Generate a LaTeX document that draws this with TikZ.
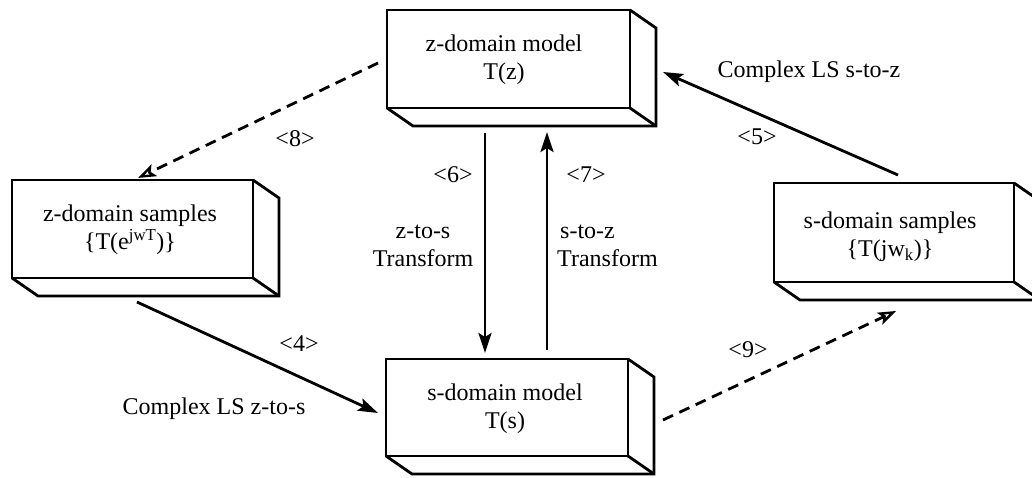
\documentclass[tikz,border=0pt]{standalone}
\usepackage{fontspec}
\setmainfont{Liberation Serif}
\usetikzlibrary{arrows.meta,calc}

\tikzset{
  box/.style={draw, line width=2.8pt, rectangle, inner sep=0pt, outer sep=0pt},
  depth/.style={line width=2.8pt, line join=miter},
  txt/.style={font=\fontsize{24}{28}\selectfont, align=center, inner sep=0pt},
  conn/.style={line width=2.8pt, -{Stealth[length=20pt,width=13pt,inset=4pt]}},
  dconn/.style={line width=2.8pt, dash pattern=on 11pt off 7pt,
    -{Stealth[open,length=18pt,width=13pt,inset=4pt,line width=2.4pt]}},
  lbl/.style={txt}
}

\begin{document}
\begin{tikzpicture}[x=1pt,y=-1pt]
\useasboundingbox (0,0) rectangle (1032,477);
\clip (0,0) rectangle (1032,477);

% front faces of the four blocks
\node[box, minimum width=243pt, minimum height=98pt] (top) at (508.5,59) {};
\node[box, minimum width=241pt, minimum height=98pt] (left) at (132.5,229) {};
\node[box, minimum width=240pt, minimum height=99pt] (right) at (894,232.5) {};
\node[box, minimum width=242pt, minimum height=97pt] (bot) at (507,407.5) {};

% bottom and right faces giving each block its depth
\foreach \b in {top,left,right,bot}{
  \draw[depth] (\b.south west) -- ++(26,18) -- ($(\b.south east)+(26,18)$)
     -- ($(\b.north east)+(26,18)$) -- (\b.north east);
  \draw[depth] (\b.south east) -- ++(26,18);
}

% block texts
\node[txt] (ttop) at (504,60) {z-domain model\\T(z)};
\node[txt] (tleft) at (130,230) {z-domain samples\\\{T(e\textsuperscript{jwT})\}};
\node[txt] (tright) at (890,237) {s-domain samples\\\{T(jw\textsubscript{k})\}};
\node[txt] (tbot) at (505,409) {s-domain model\\T(s)};

% transforms between the blocks
\draw[dconn] ([shift={(-9,4)}]top.west) -- ([shift={(5.5,-2)}]left.north);
\draw[conn] ([shift={(4.5,24)}]left.south) -- ([shift={(-8,5.5)}]bot.west);
\draw[conn] ([shift={(-23.5,25)}]top.south) -- ([shift={(-22,-6)}]bot.north);
\draw[conn] ([shift={(40,-9)}]bot.north) -- ([shift={(38.5,24)}]top.south);
\draw[conn] ([shift={(4,-8)}]right.north) -- ([shift={(33,13)}]top.east);
\draw[dconn] ([shift={(35,12.5)}]bot.east) -- ([shift={(2,29)}]right.south);

% labels
\node[lbl] (l8) at (295,139) {<8>};
\node[lbl] (l4) at (299,344) {<4>};
\node[lbl] (c4) at (214,409) {Complex LS z-to-s};
\node[lbl] (l6) at (453,175) {<6>};
\node[lbl] (t6) at (423,246) {z-to-s\\Transform};
\node[lbl] (l7) at (586,175) {<7>};
\node[lbl, align=left, anchor=west] (t7) at (557,246) {\hspace*{3pt}s-to-z\\Transform};
\node[lbl] (l5) at (757,137) {<5>};
\node[lbl] (c5) at (809,72) {Complex LS s-to-z};
\node[lbl] (l9) at (748,350) {<9>};
\end{tikzpicture}
\end{document}
